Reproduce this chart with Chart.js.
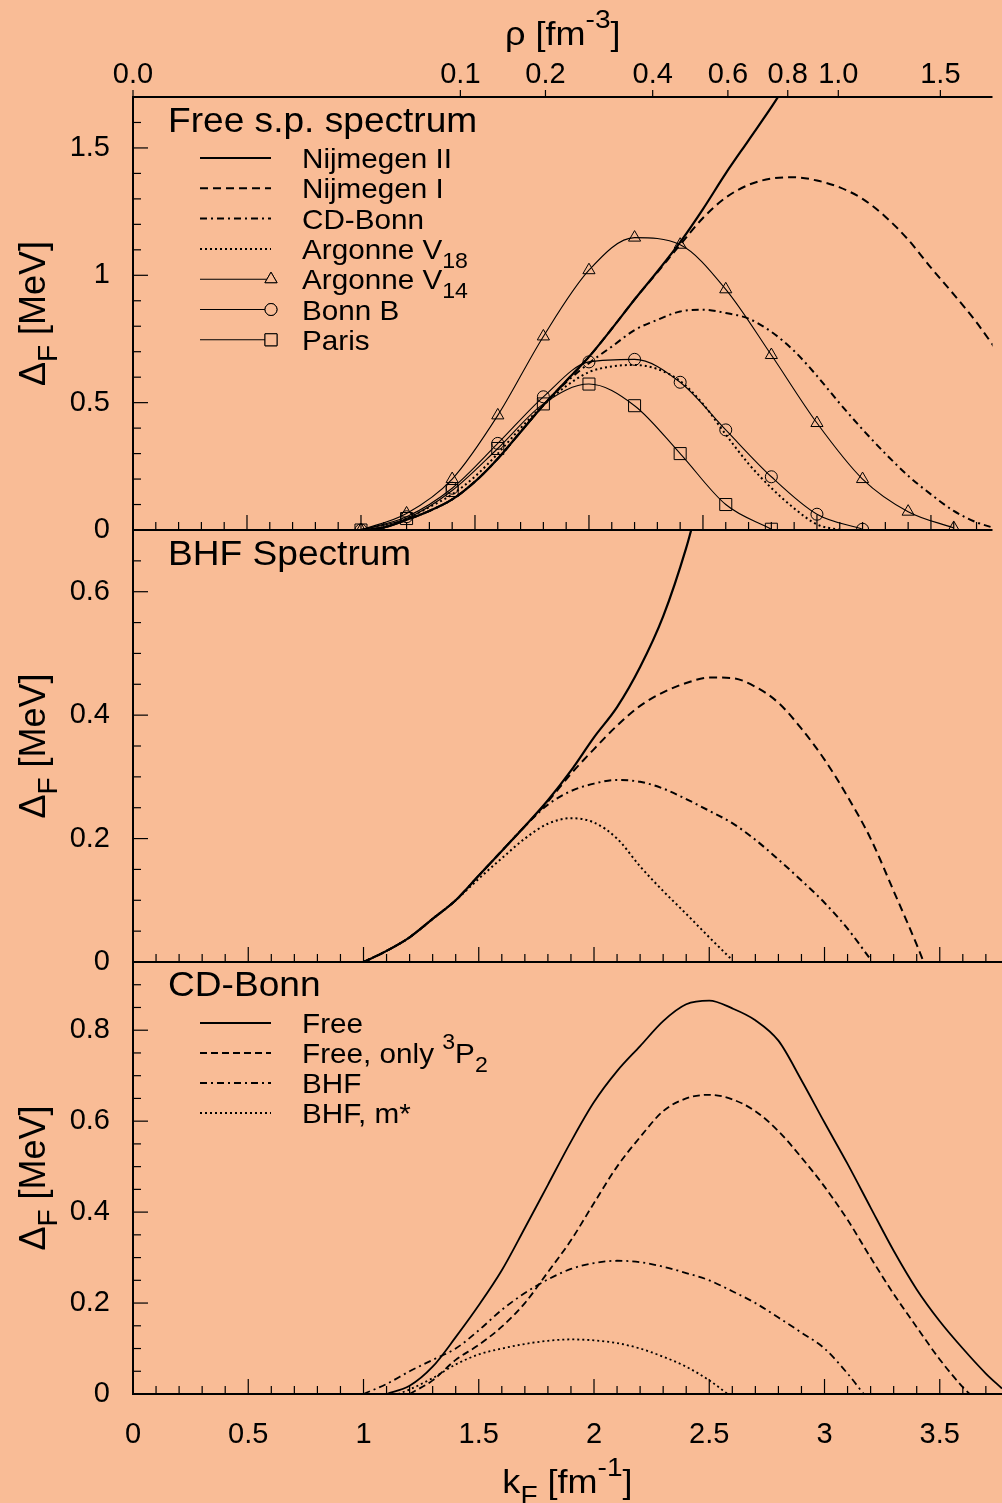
<!DOCTYPE html>
<html>
<head>
<meta charset="utf-8">
<script src="https://cdn.jsdelivr.net/npm/chart.js@4/dist/chart.umd.min.js"></script>
<style>
  html, body { margin: 0; padding: 0; background: #f9bc96; }
  #wrap { position: relative; width: 1002px; height: 1503px; overflow: hidden; }
  #wrap canvas { position: absolute; left: 0; top: 0; }
</style>
</head>
<body>
<div id="wrap">
  <canvas id="free-sp" width="1002" height="1503"></canvas>
  <canvas id="bhf-sp" width="1002" height="1503"></canvas>
  <canvas id="cd-bonn" width="1002" height="1503"></canvas>
</div>
<script>
// ---- axes ----
const KMAX = 3.77;
const kfTicks = [0, 0.5, 1, 1.5, 2, 2.5, 3, 3.5];
const rhoTicks = [0.0, 0.1, 0.2, 0.4, 0.6, 0.8, 1.0, 1.5];
const gapTicksFree = [0, 0.5, 1, 1.5];
const gapTicksBhf = [0, 0.2, 0.4, 0.6];
const gapTicksCd = [0, 0.2, 0.4, 0.6, 0.8];

// ---- free s.p. spectrum: gap Delta_F [MeV] vs k_F [fm^-1] ----
const kNijmII = [1.0, 1.1, 1.2, 1.3, 1.4, 1.5, 1.6, 1.7, 1.8, 1.9, 2.0, 2.1, 2.2, 2.3, 2.4, 2.5, 2.6, 2.7, 2.8, 2.9];
const gapNijmII = [0, 0.01, 0.04, 0.075, 0.12, 0.19, 0.28, 0.385, 0.49, 0.585, 0.68, 0.79, 0.905, 1.015, 1.13, 1.26, 1.40, 1.53, 1.66, 1.80];

const kNijmI = [1.0, 1.1, 1.2, 1.3, 1.4, 1.5, 1.6, 1.7, 1.8, 1.9, 2.0, 2.1, 2.2, 2.3, 2.4, 2.5, 2.6, 2.7, 2.8, 2.9, 3.0, 3.1, 3.2, 3.3, 3.4, 3.5, 3.6, 3.7, 3.8];
const gapNijmI = [0, 0.01, 0.04, 0.075, 0.12, 0.19, 0.28, 0.385, 0.49, 0.585, 0.68, 0.79, 0.905, 1.012, 1.12, 1.225, 1.305, 1.355, 1.38, 1.385, 1.372, 1.345, 1.30, 1.23, 1.14, 1.03, 0.925, 0.815, 0.69];

const kCdBonn = [1.0, 1.1, 1.2, 1.3, 1.4, 1.5, 1.6, 1.7, 1.8, 1.9, 2.0, 2.1, 2.2, 2.3, 2.4, 2.5, 2.6, 2.7, 2.8, 2.9, 3.0, 3.1, 3.2, 3.3, 3.4, 3.5, 3.6, 3.7, 3.77];
const gapCdBonn = [0, 0.01, 0.04, 0.075, 0.12, 0.19, 0.28, 0.385, 0.49, 0.58, 0.655, 0.72, 0.785, 0.825, 0.858, 0.865, 0.852, 0.83, 0.778, 0.703, 0.605, 0.497, 0.395, 0.30, 0.213, 0.14, 0.075, 0.03, 0.01];

const kArgV18 = [1.0, 1.1, 1.2, 1.3, 1.4, 1.5, 1.6, 1.7, 1.8, 1.9, 2.0, 2.1, 2.2, 2.3, 2.4, 2.5, 2.6, 2.7, 2.8, 2.9, 3.0, 3.1];
const gapArgV18 = [0, 0.012, 0.045, 0.09, 0.14, 0.21, 0.30, 0.40, 0.49, 0.565, 0.62, 0.642, 0.648, 0.632, 0.585, 0.495, 0.375, 0.26, 0.165, 0.085, 0.022, 0];

const kArgV14 = [1.0, 1.2, 1.4, 1.6, 1.8, 2.0, 2.2, 2.4, 2.6, 2.8, 3.0, 3.2, 3.4, 3.6];
const gapArgV14 = [0, 0.065, 0.2, 0.45, 0.76, 1.02, 1.148, 1.12, 0.945, 0.687, 0.42, 0.2, 0.072, 0.008];

const kBonnB = [1.0, 1.2, 1.4, 1.6, 1.8, 2.0, 2.2, 2.4, 2.6, 2.8, 3.0, 3.2];
const gapBonnB = [0, 0.052, 0.164, 0.34, 0.523, 0.66, 0.67, 0.58, 0.393, 0.209, 0.062, 0.003];

const kParis = [1.0, 1.2, 1.4, 1.6, 1.8, 2.0, 2.2, 2.4, 2.6, 2.8];
const gapParis = [0, 0.045, 0.155, 0.32, 0.495, 0.573, 0.488, 0.30, 0.10, 0.003];

// ---- BHF spectrum ----
const kBhfNijmII = [1.0, 1.1, 1.2, 1.3, 1.4, 1.5, 1.6, 1.7, 1.8, 1.9, 2.0, 2.1, 2.2, 2.3, 2.4, 2.45];
const gapBhfNijmII = [0, 0.018, 0.04, 0.07, 0.1, 0.14, 0.18, 0.22, 0.262, 0.31, 0.364, 0.413, 0.478, 0.56, 0.671, 0.74];

const kBhfNijmI = [1.0, 1.1, 1.2, 1.3, 1.4, 1.5, 1.6, 1.7, 1.8, 1.9, 2.0, 2.1, 2.2, 2.3, 2.4, 2.5, 2.6, 2.7, 2.8, 2.9, 3.0, 3.1, 3.2, 3.3, 3.4, 3.43];
const gapBhfNijmI = [0, 0.018, 0.04, 0.07, 0.1, 0.14, 0.18, 0.22, 0.26, 0.305, 0.345, 0.383, 0.415, 0.437, 0.452, 0.461, 0.46, 0.446, 0.42, 0.378, 0.328, 0.268, 0.2, 0.115, 0.028, 0];

const kBhfCdBonn = [1.0, 1.1, 1.2, 1.3, 1.4, 1.5, 1.6, 1.7, 1.8, 1.9, 2.0, 2.1, 2.2, 2.3, 2.4, 2.5, 2.6, 2.7, 2.8, 2.9, 3.0, 3.1, 3.2];
const gapBhfCdBonn = [0, 0.018, 0.04, 0.07, 0.1, 0.14, 0.18, 0.22, 0.255, 0.277, 0.289, 0.295, 0.292, 0.281, 0.264, 0.245, 0.225, 0.198, 0.166, 0.132, 0.096, 0.054, 0.004];

const kBhfArgV18 = [1.0, 1.1, 1.2, 1.3, 1.4, 1.5, 1.6, 1.7, 1.8, 1.9, 2.0, 2.1, 2.2, 2.3, 2.4, 2.5, 2.6];
const gapBhfArgV18 = [0, 0.018, 0.04, 0.07, 0.1, 0.135, 0.168, 0.2, 0.224, 0.233, 0.226, 0.2, 0.155, 0.115, 0.078, 0.04, 0.003];

// ---- CD-Bonn comparison ----
const kCdFree = [1.1, 1.2, 1.3, 1.4, 1.5, 1.6, 1.7, 1.8, 1.9, 2.0, 2.1, 2.2, 2.3, 2.4, 2.5, 2.6, 2.7, 2.8, 2.9, 3.0, 3.1, 3.2, 3.3, 3.4, 3.5, 3.6, 3.7, 3.77];
const gapCdFree = [0, 0.018, 0.06, 0.125, 0.195, 0.272, 0.365, 0.46, 0.555, 0.642, 0.71, 0.765, 0.82, 0.857, 0.865, 0.848, 0.822, 0.777, 0.69, 0.597, 0.506, 0.41, 0.315, 0.23, 0.16, 0.1, 0.045, 0.012];

const kCd3P2 = [1.2, 1.3, 1.4, 1.5, 1.6, 1.7, 1.8, 1.9, 2.0, 2.1, 2.2, 2.3, 2.4, 2.5, 2.6, 2.7, 2.8, 2.9, 3.0, 3.1, 3.2, 3.3, 3.4, 3.5, 3.6, 3.63];
const gapCd3P2 = [0, 0.03, 0.075, 0.108, 0.148, 0.2, 0.268, 0.338, 0.42, 0.5, 0.565, 0.622, 0.65, 0.658, 0.648, 0.622, 0.578, 0.52, 0.456, 0.383, 0.30, 0.22, 0.147, 0.076, 0.015, 0];

const kCdBhf = [1.0, 1.1, 1.2, 1.3, 1.4, 1.5, 1.6, 1.7, 1.8, 1.9, 2.0, 2.1, 2.2, 2.3, 2.4, 2.5, 2.6, 2.7, 2.8, 2.9, 3.0, 3.1, 3.17];
const gapCdBhf = [0, 0.022, 0.05, 0.075, 0.1, 0.14, 0.185, 0.222, 0.252, 0.275, 0.288, 0.293, 0.29, 0.28, 0.266, 0.25, 0.226, 0.2, 0.168, 0.135, 0.1, 0.045, 0];

const kCdBhfM = [1.15, 1.2, 1.3, 1.4, 1.5, 1.6, 1.7, 1.8, 1.9, 2.0, 2.1, 2.2, 2.3, 2.4, 2.5, 2.58];
const gapCdBhfM = [0, 0.01, 0.035, 0.065, 0.087, 0.1, 0.11, 0.117, 0.12, 0.118, 0.112, 0.1, 0.082, 0.06, 0.03, 0];

// ---- styling ----
const ink = '#000';
const FONT = '"Liberation Sans", Arial, Helvetica, sans-serif';
const SX = 1.06;          // horizontal text stretch
const DASH = [8, 5];
const DASHDOT = [7, 4, 2, 4];
const DOT = [2, 3];

Chart.defaults.font.family = FONT;
Chart.defaults.color = ink;

// k_F for a given neutron density rho (pure neutron matter)
const rhoToK = r => Math.cbrt(3 * Math.PI * Math.PI * r);

function curve(k, gap, style) {
  return Object.assign({
    data: k.map((x, i) => ({ x: x, y: gap[i] })),
    xAxisID: 'x',
    yAxisID: 'y',
    borderColor: ink,
    borderWidth: 2,
    borderDash: [],
    pointRadius: 0,
    pointStyle: 'circle',
    pointBorderColor: ink,
    pointBackgroundColor: 'rgba(0,0,0,0)',
    pointBorderWidth: 1,
    fill: false,
    cubicInterpolationMode: 'monotone'
  }, style);
}

function gapAxis(max, ticks) {
  return {
    type: 'linear', min: 0, max: max,
    afterBuildTicks: s => { s.ticks = ticks.map(v => ({ value: v })); },
    afterFit: s => { s.width = 133; },
    grid: { display: false, drawTicks: false },
    border: { display: false },
    ticks: { padding: 23, font: { size: 29 }, callback: v => String(v) }
  };
}

function kAxis(show) {
  const axis = {
    type: 'linear', min: 0, max: KMAX, display: show,
    afterBuildTicks: s => { s.ticks = kfTicks.map(v => ({ value: v })); },
    grid: { display: false, drawTicks: false },
    border: { display: false },
    ticks: { padding: 24, font: { size: 29 }, maxRotation: 0, autoSkip: false, callback: v => String(v) }
  };
  if (show) axis.afterFit = s => { s.height = 109; };
  return axis;
}

// text with sub/superscripts: parts = [[text, shift]], shift -1 sub, 1 sup
function rich(ctx, parts, x, y, size, align, stretch) {
  ctx.save();
  ctx.translate(x, y);
  ctx.scale(stretch, 1);
  ctx.textBaseline = 'alphabetic';
  ctx.textAlign = 'left';
  const sizeOf = p => p[1] ? size * 0.78 : size;
  let w = 0;
  parts.forEach(p => { ctx.font = sizeOf(p) + 'px ' + FONT; w += ctx.measureText(p[0]).width; });
  let cx = align === 'center' ? -w / 2 : 0;
  parts.forEach(p => {
    ctx.font = sizeOf(p) + 'px ' + FONT;
    const dy = p[1] === -1 ? size * 0.33 : p[1] === 1 ? -size * 0.5 : 0;
    ctx.fillText(p[0], cx, dy);
    cx += ctx.measureText(p[0]).width;
  });
  ctx.restore();
}

function seg(ctx, x1, y1, x2, y2) {
  ctx.beginPath();
  ctx.moveTo(x1, y1);
  ctx.lineTo(x2, y2);
  ctx.stroke();
}

function marker(ctx, style, x, y, r) {
  ctx.beginPath();
  if (style === 'triangle') {
    ctx.moveTo(x, y - r);
    ctx.lineTo(x + r * 0.866, y + r / 2);
    ctx.lineTo(x - r * 0.866, y + r / 2);
    ctx.closePath();
  } else if (style === 'rect') {
    const s = r * Math.SQRT1_2;
    ctx.rect(x - s, y - s, 2 * s, 2 * s);
  } else {
    ctx.arc(x, y, r, 0, 2 * Math.PI);
  }
  ctx.stroke();
}

// frame, inward ticks, titles and legend for one panel
function panelPlugin(spec) {
  return {
    id: 'panelFrame',
    afterDraw(chart) {
      const ctx = chart.ctx, a = chart.chartArea;
      const xs = chart.scales.x, ys = chart.scales.y;
      ctx.save();
      ctx.strokeStyle = ink;
      ctx.fillStyle = ink;
      ctx.setLineDash([]);

      ctx.lineWidth = 2;
      seg(ctx, a.left, a.top, a.left, a.bottom + 1);
      seg(ctx, a.left - 1, a.bottom, a.right, a.bottom);
      if (spec.rhoAxis) seg(ctx, a.left - 1, a.top, a.right, a.top);

      ctx.lineWidth = 1.2;
      const nY = Math.round(ys.max / spec.yMinor);
      for (let i = 0; i <= nY; i++) {
        const v = i * spec.yMinor;
        const major = Math.abs(v / spec.yMajor - Math.round(v / spec.yMajor)) < 1e-6;
        const y = ys.getPixelForValue(v);
        seg(ctx, a.left, y, a.left + (major ? 15 : 8), y);
      }
      const nX = Math.floor(KMAX * 10 + 1e-6);
      for (let i = 0; i <= nX; i++) {
        const x = xs.getPixelForValue(i / 10);
        seg(ctx, x, a.bottom, x, a.bottom - (i % 5 === 0 ? 15 : 8));
      }
      if (spec.rhoAxis) {
        const xt = chart.scales.xTop;
        rhoTicks.forEach(r => {
          const x = xt.getPixelForValue(rhoToK(r));
          seg(ctx, x, a.top, x, a.top - 7);
        });
        rich(ctx, [['\u03c1 [fm', 0], ['-3', 1], [']', 0]], (a.left + a.right) / 2, 45, 34, 'center', SX);
      }
      if (spec.kAxisTitle) {
        rich(ctx, [['k', 0], ['F', -1], [' [fm', 0], ['-1', 1], [']', 0]], (a.left + a.right) / 2, 1493, 34, 'center', SX);
      }

      // rotated y title
      ctx.save();
      ctx.translate(45, (a.top + a.bottom) / 2);
      ctx.rotate(-Math.PI / 2);
      rich(ctx, [['\u0394', 0], ['F', -1], [' [MeV]', 0]], 0, 0, 36, 'center', 1);
      ctx.restore();

      rich(ctx, [[spec.title, 0]], 168, spec.titleY, 35, 'left', SX);

      if (spec.legend) {
        spec.legend.forEach((parts, i) => {
          const ds = chart.data.datasets[i];
          const y = spec.legendY + i * spec.legendStep;
          ctx.lineWidth = ds.borderWidth;
          ctx.setLineDash(ds.borderDash || []);
          seg(ctx, 200, y, 271, y);
          ctx.setLineDash([]);
          if (ds.pointRadius > 0) {
            ctx.lineWidth = ds.pointBorderWidth;
            ctx.fillStyle = '#f9bc96';
            marker(ctx, ds.pointStyle, 271, y, ds.pointRadius);
            ctx.fill();
            marker(ctx, ds.pointStyle, 271, y, ds.pointRadius);
            ctx.fillStyle = ink;
          }
          rich(ctx, parts, 302, y + 10, 28, 'left', SX);
        });
      }
      ctx.restore();
    }
  };
}

const baseOptions = () => ({
  responsive: false,
  animation: false,
  events: [],
  plugins: { legend: { display: false }, tooltip: { enabled: false } }
});

// ---- panel 1: free single-particle spectrum ----
new Chart(document.getElementById('free-sp'), {
  type: 'line',
  data: {
    datasets: [
      curve(kNijmII, gapNijmII, { label: 'Nijmegen II', borderWidth: 2.2 }),
      curve(kNijmI, gapNijmI, { label: 'Nijmegen I', borderDash: DASH }),
      curve(kCdBonn, gapCdBonn, { label: 'CD-Bonn', borderDash: DASHDOT }),
      curve(kArgV18, gapArgV18, { label: 'Argonne V18', borderDash: DOT }),
      curve(kArgV14, gapArgV14, { label: 'Argonne V14', borderWidth: 1.1, pointRadius: 7, pointStyle: 'triangle' }),
      curve(kBonnB, gapBonnB, { label: 'Bonn B', borderWidth: 1.1, pointRadius: 6, pointStyle: 'circle' }),
      curve(kParis, gapParis, { label: 'Paris', borderWidth: 1.1, pointRadius: 8.5, pointStyle: 'rect' })
    ]
  },
  options: Object.assign(baseOptions(), {
    layout: { padding: { top: 0, bottom: 1503 - 530, left: 0, right: 0 } },
    scales: {
      x: kAxis(false),
      xTop: {
        type: 'linear', position: 'top', min: 0, max: KMAX,
        afterBuildTicks: s => { s.ticks = rhoTicks.map(r => ({ value: rhoToK(r) })); },
        afterFit: s => { s.height = 97; },
        grid: { display: false, drawTicks: false },
        border: { display: false },
        ticks: { padding: 5, font: { size: 29 }, maxRotation: 0, autoSkip: false,
                 callback: (v, i) => rhoTicks[i].toFixed(1) }
      },
      y: gapAxis(1.7, gapTicksFree)
    }
  }),
  plugins: [panelPlugin({
    yMajor: 0.5, yMinor: 0.1, rhoAxis: true,
    title: 'Free s.p. spectrum', titleY: 132,
    legendY: 158, legendStep: 30.3,
    legend: [
      [['Nijmegen II', 0]],
      [['Nijmegen I', 0]],
      [['CD-Bonn', 0]],
      [['Argonne V', 0], ['18', -1]],
      [['Argonne V', 0], ['14', -1]],
      [['Bonn B', 0]],
      [['Paris', 0]]
    ]
  })]
});

// ---- panel 2: BHF spectrum ----
new Chart(document.getElementById('bhf-sp'), {
  type: 'line',
  data: {
    datasets: [
      curve(kBhfNijmII, gapBhfNijmII, { label: 'Nijmegen II', borderWidth: 2.2 }),
      curve(kBhfNijmI, gapBhfNijmI, { label: 'Nijmegen I', borderDash: DASH }),
      curve(kBhfCdBonn, gapBhfCdBonn, { label: 'CD-Bonn', borderDash: DASHDOT }),
      curve(kBhfArgV18, gapBhfArgV18, { label: 'Argonne V18', borderDash: DOT })
    ]
  },
  options: Object.assign(baseOptions(), {
    layout: { padding: { top: 530, bottom: 1503 - 962, left: 0, right: 0 } },
    scales: {
      x: kAxis(false),
      y: gapAxis(0.7, gapTicksBhf)
    }
  }),
  plugins: [panelPlugin({
    yMajor: 0.2, yMinor: 0.05,
    title: 'BHF Spectrum', titleY: 565
  })]
});

// ---- panel 3: CD-Bonn, free vs BHF ----
new Chart(document.getElementById('cd-bonn'), {
  type: 'line',
  data: {
    datasets: [
      curve(kCdFree, gapCdFree, { label: 'Free', borderWidth: 1.8 }),
      curve(kCd3P2, gapCd3P2, { label: 'Free, only 3P2', borderWidth: 1.8, borderDash: [7, 4] }),
      curve(kCdBhf, gapCdBhf, { label: 'BHF', borderWidth: 1.8, borderDash: DASHDOT }),
      curve(kCdBhfM, gapCdBhfM, { label: 'BHF, m*', borderWidth: 1.8, borderDash: DOT })
    ]
  },
  options: Object.assign(baseOptions(), {
    layout: { padding: { top: 962, bottom: 0, left: 0, right: 0 } },
    scales: {
      x: kAxis(true),
      y: gapAxis(0.95, gapTicksCd)
    }
  }),
  plugins: [panelPlugin({
    yMajor: 0.2, yMinor: 0.05, kAxisTitle: true,
    title: 'CD-Bonn', titleY: 996,
    legendY: 1023, legendStep: 30,
    legend: [
      [['Free', 0]],
      [['Free, only ', 0], ['3', 1], ['P', 0], ['2', -1]],
      [['BHF', 0]],
      [['BHF, m*', 0]]
    ]
  })]
});
</script>
</body>
</html>
